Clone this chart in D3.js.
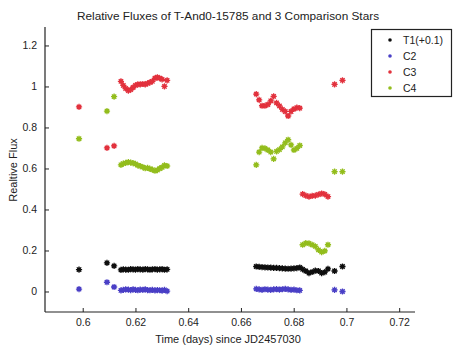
<!DOCTYPE html>
<html>
<head>
<meta charset="utf-8">
<script src="https://cdn.jsdelivr.net/npm/d3@7/dist/d3.min.js"></script>
<style>
  html, body { margin: 0; padding: 0; background: #fff; }
  svg { display: block; }
  text { font-family: "Liberation Sans", Arial, sans-serif; fill: #222; }
</style>
</head>
<body>
<svg id="chart" width="453" height="349"></svg>
<script>
// Observation times (days since JD2457030)
const times = [
  0.5986, 0.6092, 0.6119,
  0.6145, 0.6154, 0.6163, 0.6173, 0.6182, 0.6191, 0.6200, 0.6209, 0.6218, 0.6228,
  0.6237, 0.6246, 0.6255, 0.6264, 0.6274, 0.6283, 0.6292, 0.6301, 0.6310, 0.6320,
  0.6658, 0.6669, 0.6680, 0.6691, 0.6702, 0.6713, 0.6724, 0.6735, 0.6746, 0.6757,
  0.6768, 0.6779, 0.6790, 0.6801, 0.6812, 0.6823,
  0.6834, 0.6846, 0.6858, 0.6870, 0.6882, 0.6894, 0.6906, 0.6918, 0.6930,
  0.6955, 0.6985
];

// Target star relative flux (plotted with a +0.1 offset)
const t1Offset = 0.1;
const t1 = [
  0.007, 0.040, 0.025,
  0.005, 0.008, 0.007, 0.006, 0.009, 0.008, 0.007, 0.009, 0.008, 0.007,
  0.009, 0.008, 0.006, 0.008, 0.009, 0.007, 0.008, 0.009, 0.006, 0.008,
  0.022, 0.020, 0.019, 0.018, 0.017, 0.016, 0.015, 0.015, 0.014, 0.013,
  0.012, 0.011, 0.012, 0.013, 0.014, 0.017,
  0.008, 0.000, -0.010, -0.005, 0.002, 0.000, -0.010, -0.006, 0.010,
  0.000, 0.022
];

// Comparison stars
const c2 = [
  0.012, 0.045, 0.022,
  0.005, 0.008, 0.010, 0.009, 0.007, 0.010, 0.008, 0.006, 0.009, 0.008,
  0.010, 0.007, 0.006, 0.008, 0.005, 0.007, 0.006, 0.004, 0.008, 0.002,
  0.013, 0.010, 0.008, 0.011, 0.009, 0.008, 0.010, 0.012, 0.009, 0.011,
  0.013, 0.010, 0.008, 0.009, 0.006, 0.005,
  null, null, null, null, null, null, null, null, null,
  0.008, 0.000
];

const c3 = [
  0.900, 0.700, 0.710,
  1.025, 1.005, 0.990, 0.980, 0.985, 0.995, 1.005, 1.010, 1.010, 1.012,
  1.010, 1.015, 1.020, 1.025, 1.040, 1.045, 1.040, 1.035, 1.000, 1.030,
  0.963, 0.935, 0.906, 0.906, 0.912, 0.930, 0.952, 0.920, 0.905, 0.888,
  0.878, 0.856, 0.878, 0.890, 0.897, 0.894,
  0.475, 0.468, 0.463, 0.466, 0.468, 0.473, 0.478, 0.474, 0.463,
  1.010, 1.030
];

const c4 = [
  0.745, 0.880, 0.950,
  0.618, 0.624, 0.627, 0.631, 0.629, 0.626, 0.622, 0.615, 0.611, 0.607,
  0.601, 0.603, 0.598, 0.594, 0.589, 0.592, 0.600, 0.605, 0.615, 0.612,
  0.618, 0.680, 0.700, 0.698, 0.690, 0.680, 0.647, 0.683, 0.692, 0.705,
  0.725, 0.740, 0.715, 0.690, 0.698, 0.712,
  0.228, 0.236, 0.235, 0.228, 0.220, 0.203, 0.192, 0.198, 0.228,
  0.585, 0.585
];

const xTicks = [0.6, 0.62, 0.64, 0.66, 0.68, 0.7, 0.72];
const yTicks = [0, 0.2, 0.4, 0.6, 0.8, 1, 1.2];

const seriesNames = ["T1(+0.1)", "C2", "C3", "C4"];
const seriesColors = ["#111111", "#4a3fc6", "#e2303c", "#93bd1c"];

const series = [
  t1.map(v => v == null ? null : v + t1Offset),
  c2, c3, c4
];

const svg = d3.select("#chart");

const x = d3.scaleLinear().domain([0.5857, 0.726]).range([45, 415]);
const y = d3.scaleLinear().domain([-0.1, 1.29]).range([312, 27]);

// soft focus for markers
const defs = svg.append("defs");
defs.append("filter").attr("id", "soft")
  .attr("x", "-50%").attr("y", "-50%").attr("width", "200%").attr("height", "200%")
  .append("feGaussianBlur").attr("stdDeviation", 0.45);

// Title
svg.append("text")
  .attr("x", 228).attr("y", 20)
  .attr("text-anchor", "middle")
  .style("font-size", "11.8px")
  .text("Relative Fluxes of T-And0-15785 and 3 Comparison Stars");

// Axes (ticks pointing inward)
const xAxis = d3.axisBottom(x).tickValues(xTicks).tickSize(-4).tickPadding(7)
  .tickFormat(d => String(+d.toFixed(2)));
const yAxis = d3.axisLeft(y).tickValues(yTicks).tickSize(-4).tickPadding(8)
  .tickFormat(d => String(+d.toFixed(1)));

const gx = svg.append("g").attr("transform", "translate(0,312)").call(xAxis);
const gy = svg.append("g").attr("transform", "translate(45,0)").call(yAxis);

[gx, gy].forEach(g => {
  g.select(".domain").attr("stroke", "#222").attr("stroke-width", 1.2);
  g.selectAll(".tick line").attr("stroke", "#222");
  g.selectAll(".tick text").style("font-size", "10.5px").style("fill", "#222")
    .style("font-family", "\"Liberation Sans\", Arial, sans-serif");
});
gx.select(".domain").attr("d", "M45,0H415");
gy.select(".domain").attr("d", "M0,312V27");

// Axis labels
svg.append("text")
  .attr("x", 228).attr("y", 343)
  .attr("text-anchor", "middle")
  .style("font-size", "11px")
  .text("Time (days) since JD2457030");

svg.append("text")
  .attr("transform", "translate(17,170) rotate(-90)")
  .attr("text-anchor", "middle")
  .style("font-size", "11px")
  .text("Realtive Flux");

// Asterisk marker path
function asterisk(r) {
  const p = d3.path();
  for (let k = 0; k < 4; k++) {
    const a = k * Math.PI / 4;
    p.moveTo(-r * Math.cos(a), -r * Math.sin(a));
    p.lineTo(r * Math.cos(a), r * Math.sin(a));
  }
  return p.toString();
}

const marks = svg.append("g").attr("filter", "url(#soft)");
series.forEach((vals, i) => {
  const pts = times.map((t, j) => ({ t, v: vals[j] })).filter(d => d.v != null);
  const g = marks.append("g");
  g.selectAll("circle").data(pts).join("circle")
    .attr("cx", d => x(d.t)).attr("cy", d => y(d.v))
    .attr("r", 2.1).attr("fill", seriesColors[i]);
  g.selectAll("path").data(pts).join("path")
    .attr("transform", d => `translate(${x(d.t)},${y(d.v)})`)
    .attr("d", asterisk(3.1))
    .attr("stroke", seriesColors[i]).attr("stroke-width", 1.3).attr("fill", "none");
});

// Legend
const legend = svg.append("g");
legend.append("rect")
  .attr("x", 371.5).attr("y", 29.5).attr("width", 80).attr("height", 67)
  .attr("fill", "#fff").attr("stroke", "#222").attr("stroke-width", 1.2);
seriesNames.forEach((name, i) => {
  const ly = 40 + i * 16;
  legend.append("circle").attr("cx", 390).attr("cy", ly).attr("r", 1.8)
    .attr("fill", seriesColors[i]).attr("filter", "url(#soft)");
  legend.append("text").attr("x", 403).attr("y", ly + 3.8)
    .style("font-size", "10.5px").text(name);
});
</script>
</body>
</html>
